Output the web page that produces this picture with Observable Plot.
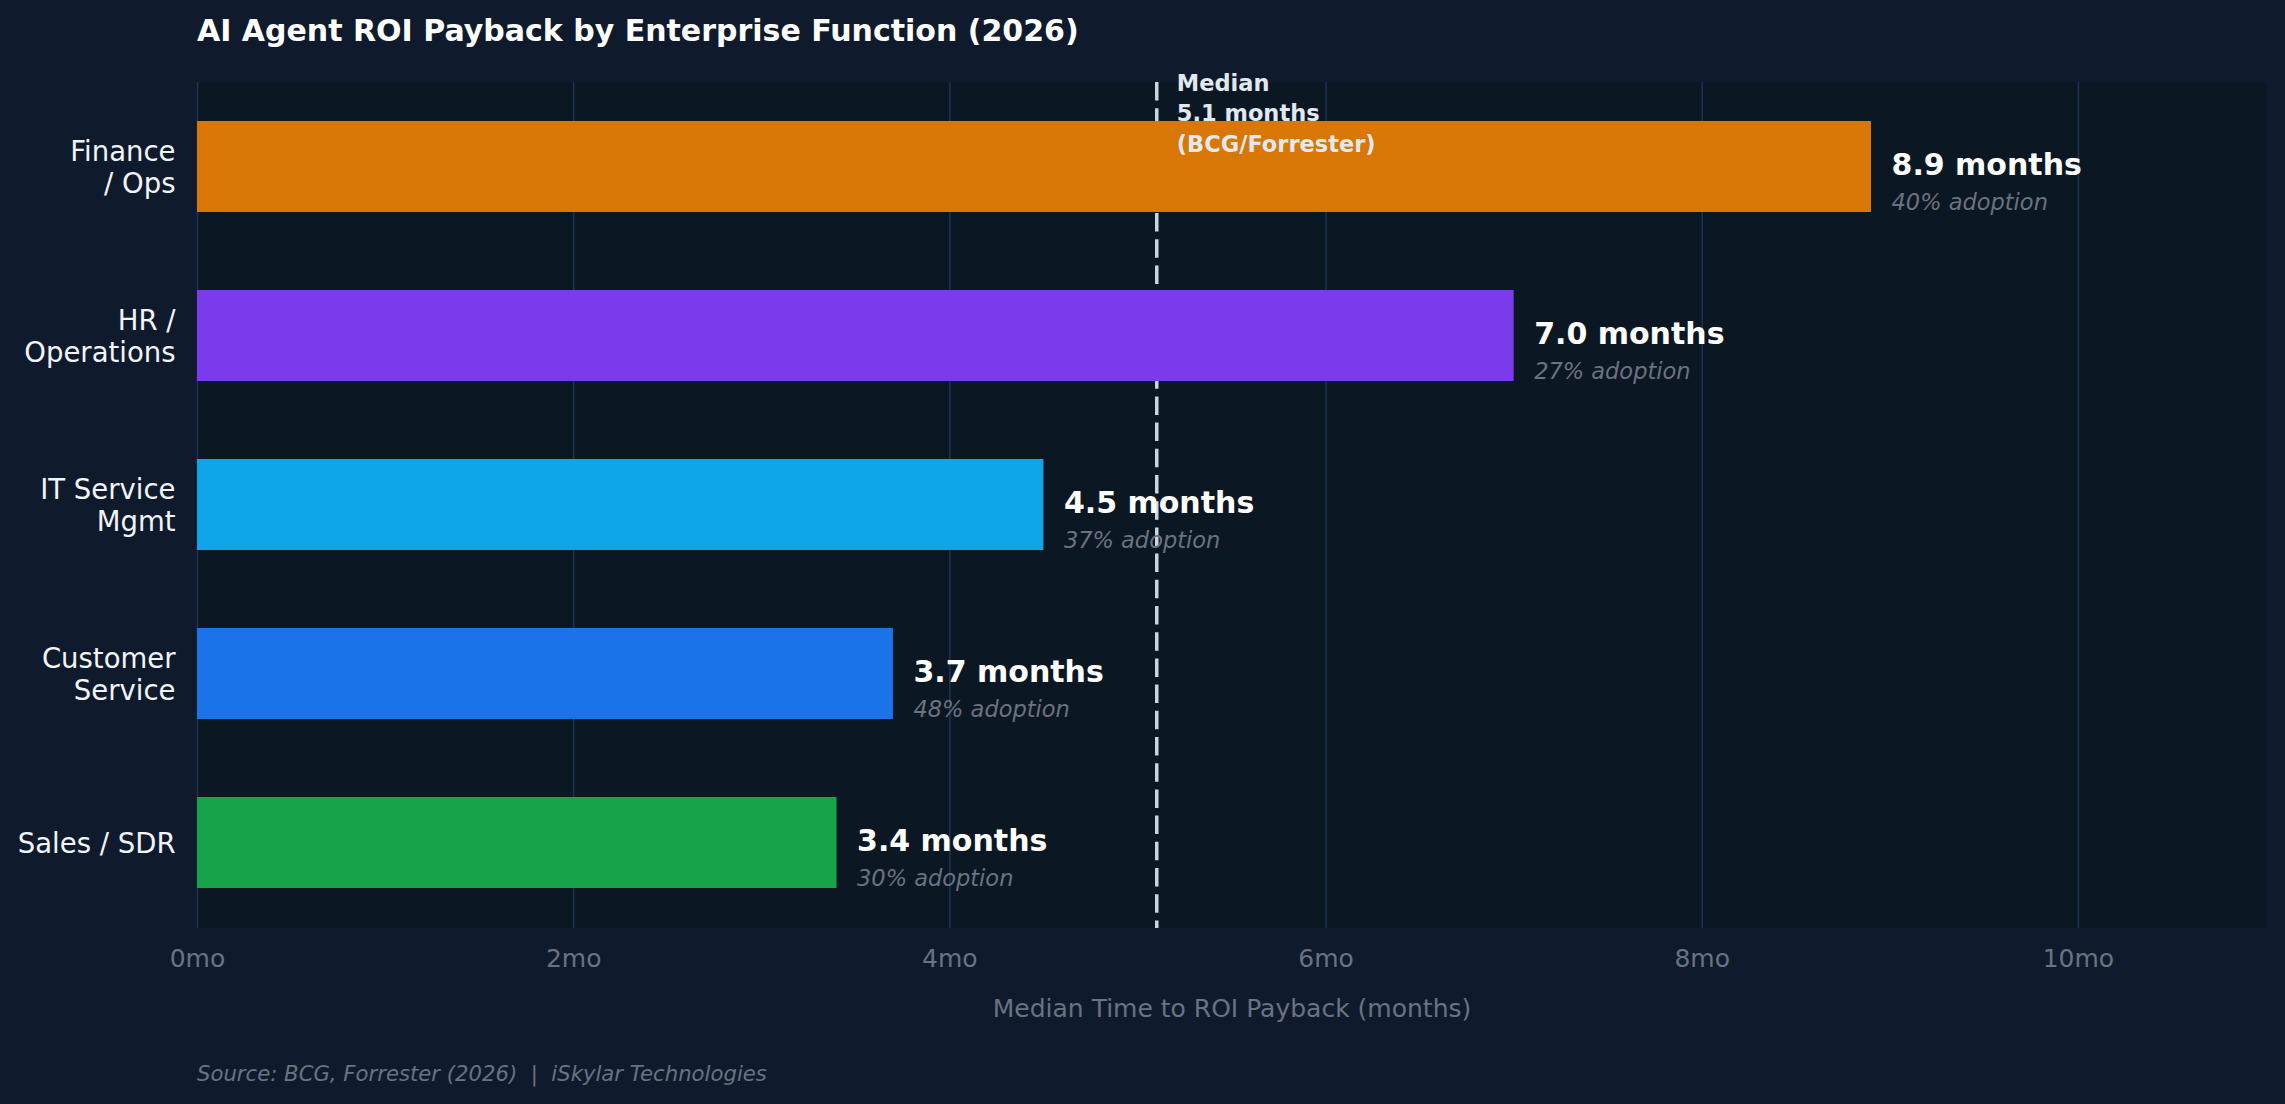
<!DOCTYPE html>
<html>
<head>
<meta charset="utf-8">
<script src="https://cdn.jsdelivr.net/npm/d3@7"></script>
<script src="https://cdn.jsdelivr.net/npm/@observablehq/plot@0.6"></script>
<style>
  html, body { margin: 0; padding: 0; background: #0f1b2d; }
  #wrap { width: 2285px; height: 1104px; background: #0f1b2d; font-family: "DejaVu Sans", sans-serif; }
  #title { height: 62px; line-height: 62px; padding-left: 197px; color: #ffffff; font-size: 30px; font-weight: bold; }
  #caption { height: 59px; line-height: 58px; padding-left: 197px; color: #6b7280; font-size: 21.2px; font-style: italic; }
  svg { display: block; }
</style>
</head>
<body>
<div id="wrap">
  <div id="title">AI Agent ROI Payback by Enterprise Function (2026)</div>
  <div id="chart"></div>
  <div id="caption">Source: BCG, Forrester (2026)&nbsp; |&nbsp; iSkylar Technologies</div>
</div>
<script>
const categories = ["Finance\n/ Ops", "HR /\nOperations", "IT Service\nMgmt", "Customer\nService", "Sales / SDR"];
const payback = [8.9, 7.0, 4.5, 3.7, 3.4];
const adoption = [40, 27, 37, 48, 30];
const xTicks = [0, 2, 4, 6, 8, 10];
const xTickLabels = ["0mo", "2mo", "4mo", "6mo", "8mo", "10mo"];
const medianPayback = 5.1;
const medianSource = "BCG/Forrester";
const xLabel = "Median Time to ROI Payback (months)";
const palette = ["#d97706", "#7c3aed", "#0ea5e9", "#1a73e8", "#16a34a"];

const data = categories.map((c, i) => ({category: c, months: payback[i], adoption: adoption[i]}));

const chart = Plot.plot({
  width: 2285,
  height: 983,
  marginTop: 20,
  marginBottom: 117,
  marginLeft: 197,
  marginRight: 19,
  style: {background: "transparent", fontFamily: "DejaVu Sans, sans-serif", color: "#6b7280", overflow: "visible"},
  x: {domain: [0, 11]},
  y: {domain: categories, paddingInner: 0.46, paddingOuter: 0.23},
  color: {domain: categories, range: palette},
  marks: [
    Plot.frame({fill: "#0c1724", stroke: "none"}),
    Plot.gridX(xTicks, {stroke: "#1f3352", strokeOpacity: 1, strokeWidth: 1.5}),
    Plot.ruleX([medianPayback], {stroke: "#cbd5e1", strokeWidth: 3.5, strokeDasharray: "18.5,7.7"}),
    Plot.barX(data, {x: "months", y: "category", fill: "category"}),
    Plot.text(data, {x: "months", y: "category", text: d => `${d.months.toFixed(1)} months`, dx: 20, dy: -2, textAnchor: "start", fill: "#ffffff", fontWeight: "bold", fontSize: 30}),
    Plot.text(data, {x: "months", y: "category", text: d => `${d.adoption}% adoption`, dx: 20, dy: 36, textAnchor: "start", fill: "#6b7280", fontStyle: "italic", fontSize: 22.5}),
    Plot.text([medianPayback], {x: d => d, text: d => `Median\n${d} months\n(${medianSource})`, frameAnchor: "top", dy: 29, dx: 20, textAnchor: "start", lineAnchor: "middle", lineHeight: 1.36, fontWeight: "bold", fontSize: 22.5, fill: "#e2e8f0"}),
    Plot.axisX({ticks: xTicks, tickFormat: d => xTickLabels[xTicks.indexOf(d)], tickSize: 0, tickPadding: 21, fontSize: 25, label: null, fill: "#6b7280"}),
    Plot.axisY({tickSize: 0, tickPadding: 22, fontSize: 27.5, label: null, fill: "#f1f5f9", lineHeight: 1.16}),
    Plot.text([xLabel], {text: d => d, frameAnchor: "bottom", dy: 80, lineAnchor: "middle", fontSize: 25, fill: "#6b7280"})
  ]
});
document.getElementById("chart").appendChild(chart);
</script>
</body>
</html>
